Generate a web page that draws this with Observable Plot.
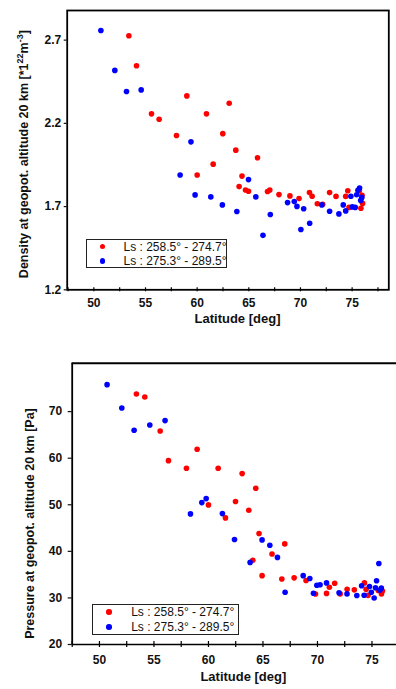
<!DOCTYPE html>
<html>
<head>
<meta charset="utf-8">
<script src="https://cdn.jsdelivr.net/npm/d3@7"></script>
<script src="https://cdn.jsdelivr.net/npm/@observablehq/plot@0.6"></script>
<style>
  html, body { margin: 0; padding: 0; background: #fff; }
  #wrap { position: relative; width: 396px; height: 689px; overflow: hidden; font-family: "Liberation Sans", Arial, Helvetica, sans-serif; }
  .panel { position: absolute; left: 0; }
  .legend { position: absolute; border: 1.5px solid #222; background: #fff; box-sizing: border-box; font-size: 12px; color: #111; }
  .legend .row { position: absolute; white-space: nowrap; }
  .legend .dot { position: absolute; width: 5.5px; height: 5.5px; border-radius: 50%; }
</style>
</head>
<body>
<div id="wrap"></div>
<script>
// ---------------- data ----------------
const seriesNames = ["Ls : 258.5° - 274.7°", "Ls : 275.3° - 289.5°"];
const seriesColors = ["#ff0000", "#0000ff"];

// Top panel: density at 20 km (×10^22 m^-3)
const densRedLat = [53.39,54.13,55.58,56.32,58.00,59.00,60.00,60.90,61.55,62.48,63.10,63.74,64.06,64.34,64.68,64.97,65.84,66.81,67.03,67.92,68.98,69.86,70.87,71.13,71.63,72.15,72.82,73.44,74.38,74.58,74.70,75.70,75.85,75.96,76.01];
const densRedVal = [2.726,2.546,2.257,2.225,2.127,2.365,1.890,2.257,1.955,2.138,2.321,2.039,1.820,1.883,1.800,1.792,1.993,1.791,1.800,1.772,1.764,1.748,1.784,1.762,1.717,1.714,1.784,1.761,1.761,1.795,1.695,1.795,1.690,1.768,1.719];
const densBlueLat = [50.68,52.03,53.16,54.58,58.35,59.40,59.80,61.32,62.44,63.84,64.97,65.68,66.37,67.08,68.75,69.40,69.66,70.04,70.31,70.89,72.07,72.82,73.72,74.14,74.38,74.88,75.02,75.30,75.44,75.56,75.72,75.83,75.94];
const densBlueVal = [2.758,2.518,2.391,2.401,1.890,2.089,1.770,1.758,1.710,1.670,1.862,1.758,1.527,1.652,1.724,1.730,1.701,1.562,1.687,1.600,1.710,1.672,1.656,1.710,1.674,1.762,1.698,1.695,1.771,1.798,1.811,1.737,1.755];

// Bottom panel: pressure at 20 km (Pa)
const presRedLat = [53.39,54.16,55.57,56.33,57.98,58.96,60.00,60.89,61.56,62.48,63.09,63.70,64.07,64.34,64.64,64.92,65.83,66.73,67.00,67.86,68.95,69.82,70.83,71.09,71.58,72.08,72.72,73.38,74.31,74.46,74.64,75.58,75.87,75.96];
const presRedVal = [73.79,73.15,65.85,59.48,57.84,61.92,49.97,57.84,47.18,50.69,56.70,48.83,38.10,53.55,43.82,34.78,39.43,34.05,41.60,34.31,33.73,30.84,30.97,32.30,33.16,30.87,31.87,31.73,33.23,31.84,30.55,31.60,30.87,31.48];
const presBlueLat = [50.70,52.05,53.18,54.62,56.02,58.35,59.39,59.79,61.28,62.39,63.82,64.92,65.63,66.33,67.03,68.69,69.30,69.63,69.94,70.24,70.83,71.98,72.71,73.61,74.05,74.28,74.77,74.94,75.20,75.42,75.63,75.32,75.72,75.86];
const presBlueVal = [75.79,70.79,65.99,67.14,68.07,48.04,50.47,51.33,48.11,42.53,37.63,42.46,41.32,38.70,31.23,34.78,34.16,31.02,32.73,32.84,33.23,31.09,30.87,30.52,32.62,30.59,32.45,31.23,29.98,33.70,37.38,32.20,31.66,32.12];

// ticks & labels
const latTicks = [47.5,50,52.5,55,57.5,60,62.5,65,67.5,70,72.5,75,77.5];
const densTicks = [1.2,1.7,2.2,2.7];
const presTicks = [20,30,40,50,60,70];
const xLabel = "Latitude [deg]";
const densLabelParts = [["Density at geopot. altitude 20 km [*1", 0], ["22", 1], ["m", 0], ["-3", 1], ["]", 0]];
const densLabel = densLabelParts.map(p => p[0]).join("");
const presLabel = "Pressure at geopot. altitude 20 km [Pa]";

// ---------------- build ----------------
const toRows = (lats, vals, s) => lats.map((la, i) => ({lat: la, v: vals[i], s}));
const densData = [...toRows(densRedLat, densRedVal, 0), ...toRows(densBlueLat, densBlueVal, 1)];
const presData = [...toRows(presRedLat, presRedVal, 0), ...toRows(presBlueLat, presBlueVal, 1)];

const FONT = '"Liberation Sans", Arial, Helvetica, sans-serif';
const wrap = document.getElementById("wrap");

function panel(cfg) {
  const plotH = cfg.height - cfg.mt - cfg.mb;
  const chart = Plot.plot({
    width: 396, height: cfg.height,
    marginLeft: cfg.ml, marginRight: cfg.mr, marginTop: cfg.mt, marginBottom: cfg.mb,
    style: {fontFamily: FONT, fontSize: "12px", fontWeight: "bold", color: "#111", background: "transparent", overflow: "visible"},
    x: {domain: cfg.xDomain},
    y: {domain: cfg.yDomain},
    color: {domain: [0, 1], range: seriesColors},
    marks: [
      ...cfg.frame,
      Plot.tickX(latTicks, {x: d => d, stroke: "#000", strokeWidth: 1.2, insetTop: plotH - cfg.xt, insetBottom: -cfg.xt}),
      Plot.axisX({ticks: latTicks.filter(d => d % 5 === 0), tickSize: 0, tickPadding: cfg.xPad, tickFormat: d => String(d), label: null, fill: "#111"}),
      Plot.axisY({ticks: cfg.yTicks, tickSize: cfg.yt, tickPadding: cfg.yPad, tickFormat: cfg.yFmt, label: null, strokeWidth: 1.2, fill: "#111"}),
      Plot.dot(cfg.data, {x: "lat", y: "v", fill: "s", r: 2.8, stroke: null, sort: {channel: "fill"}}),
      Plot.text([xLabel], {frameAnchor: "bottom", dx: cfg.xlDx, dy: cfg.xlDy, fontSize: 13, fontWeight: "bold", fill: "#111"}),
      Plot.text([cfg.yLabel], {frameAnchor: "left", textAnchor: "middle", lineAnchor: "middle", rotate: -90, dx: cfg.ylDx, dy: cfg.ylDy, fontSize: 12.5, fontWeight: "bold", fill: "#111"})
    ]
  });
  chart.classList.add("panel");
  chart.style.top = cfg.top + "px";
  wrap.appendChild(chart);
  return chart;
}

const densChart = panel({
  top: 0, height: 340, ml: 66.7, mr: 7.7, mt: 10, mb: 50.7,
  xDomain: [47.42, 78.55], yDomain: [1.2, 2.878],
  yTicks: densTicks, yFmt: d => d.toFixed(1), yt: 3, yPad: 3, xt: 2, xPad: 9,
  data: densData,
  frame: [Plot.frame({stroke: "#000", strokeWidth: 1.8})],
  xlDx: 9.5, xlDy: 33.4, ylDx: -42.7, ylDy: 4, yLabel: densLabel
});

// render superscripts in the density label with tspans
d3.select(densChart).selectAll("text").filter(function() { return this.textContent === densLabel; }).each(function() {
  const t = d3.select(this);
  t.text(null);
  let prev = 0;
  densLabelParts.forEach(([s, sup]) => {
    const ts = t.append("tspan").text(s);
    const shift = (sup - prev) * -5;
    if (shift) ts.attr("dy", shift);
    if (sup) ts.attr("font-size", 9);
    prev = sup;
  });
});

panel({
  top: 340, height: 349, ml: 71.7, mr: 0, mt: 22.7, mb: 45,
  xDomain: [47.5, 77.25], yDomain: [20, 80.4],
  yTicks: presTicks, yFmt: d => String(d), yt: 4, yPad: 6, xt: 3, xPad: 11,
  data: presData,
  frame: [Plot.ruleY([80.4], {stroke: "#000", strokeWidth: 2}), Plot.ruleY([20], {stroke: "#000", strokeWidth: 1.6}), Plot.ruleX([47.5], {stroke: "#000", strokeWidth: 1.8})],
  xlDx: 9, xlDy: 36, ylDx: -42, ylDy: 19.7, yLabel: presLabel
});

function legend(box, dotX, textX, rowYs) {
  const el = document.createElement("div");
  el.className = "legend";
  Object.assign(el.style, {left: box[0] + "px", top: box[1] + "px", width: (box[2] - box[0]) + "px", height: (box[3] - box[1]) + "px"});
  seriesNames.forEach((name, i) => {
    const dot = document.createElement("div");
    dot.className = "dot";
    dot.style.background = seriesColors[i];
    dot.style.left = (dotX - box[0] - 2.75 - 1.5) + "px";
    dot.style.top = (rowYs[i] - box[1] - 2.75 - 1.5) + "px";
    el.appendChild(dot);
    const t = document.createElement("div");
    t.className = "row";
    t.textContent = name;
    t.style.left = (textX - box[0] - 1.5) + "px";
    t.style.top = (rowYs[i] - box[1] - 8 - 1.5) + "px";
    t.style.lineHeight = "16px";
    el.appendChild(t);
  });
  wrap.appendChild(el);
}
legend([86.3, 239, 226.7, 268.3], 103, 124, [247, 261.7]);
legend([92.3, 604.3, 239, 635.3], 109.7, 131.7, [612.5, 627.3]);
</script>
</body>
</html>
